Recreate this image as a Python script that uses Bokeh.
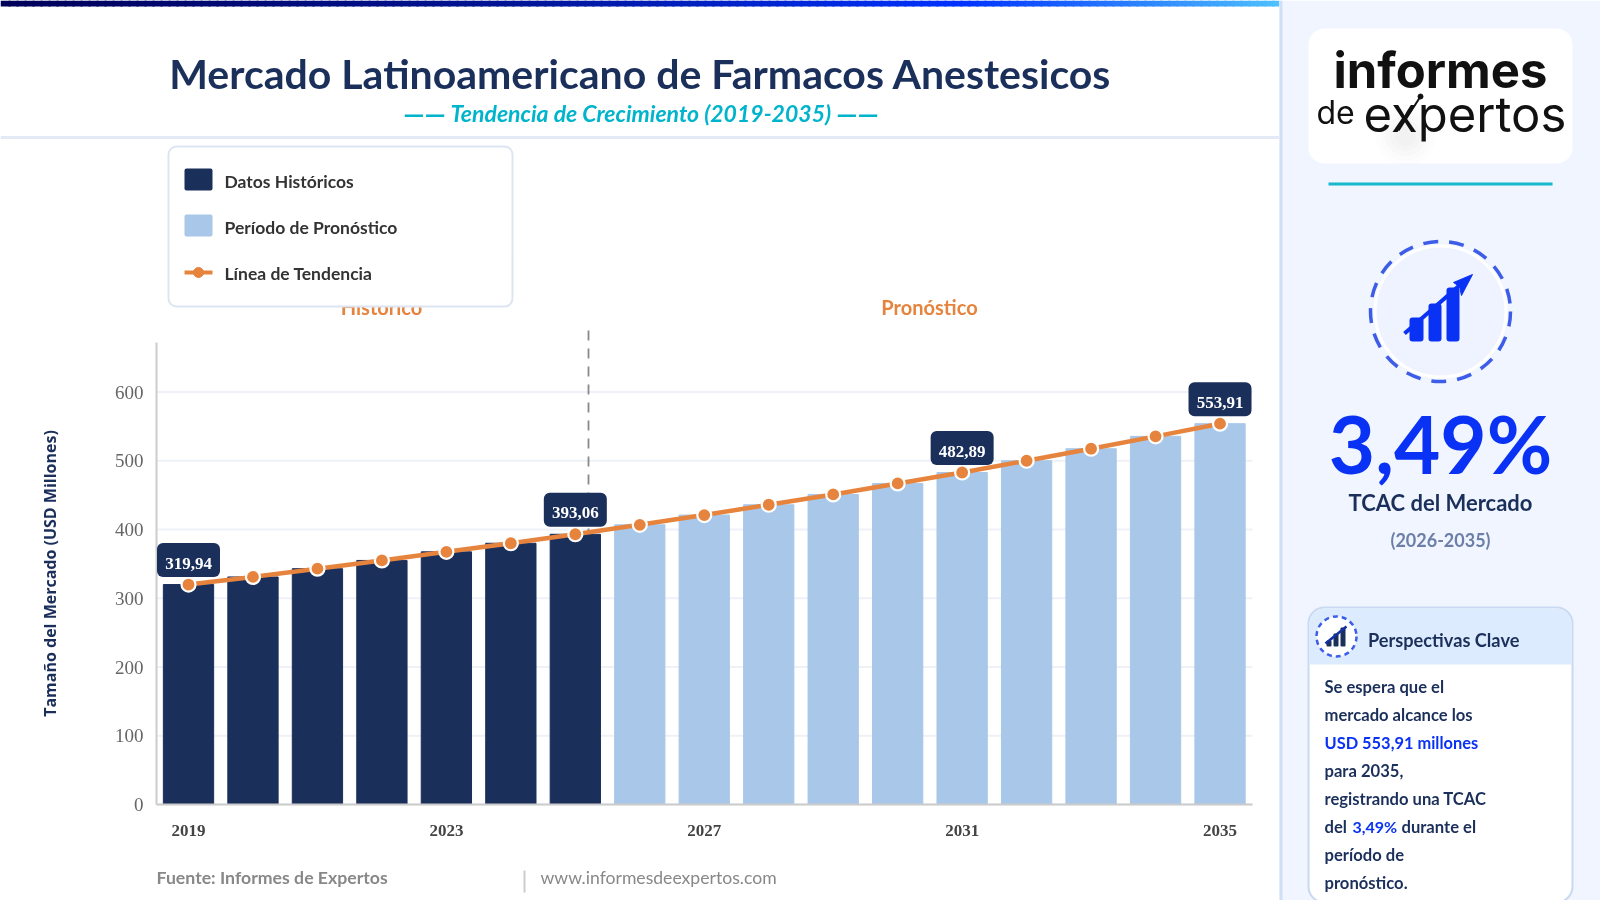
from bokeh.plotting import figure
from bokeh.models import (Range1d, LinearAxis, FixedTicker, Label, BoxAnnotation,
                          PrintfTickFormatter)
from bokeh.embed import file_html
from bokeh.resources import INLINE

# ---- data ----
years = list(range(2019, 2036))
hist_years = years[:7]
hist_values = [319.94, 331.0, 343.0, 355.0, 367.5, 380.0, 393.06]
fore_years = years[7:]
fore_values = [406.8, 421.0, 436.0, 451.0, 467.0, 482.89, 500.0, 517.5, 535.5, 553.91]
all_values = hist_values + fore_values
y_ticks = [0, 100, 200, 300, 400, 500, 600]
x_ticks = [2019, 2023, 2027, 2031, 2035]
callouts = [(2019, 319.94, "319,94"), (2025, 393.06, "393,06"),
            (2031, 482.89, "482,89"), (2035, 553.91, "553,91")]

# ---- palette / fonts ----
NAVY = "#1b2f5b"; LIGHT = "#a9c7e8"; ORANGE = "#e6843e"; TEAL = "#00b4cc"; BLUE = "#0a32f5"
F = "Lato"; SERIF = "Liberation Serif"

# ---- canvas in pixels, chart scales mapped on it ----
W, H = 1600, 900
p = figure(width=W, height=H, output_backend="svg", toolbar_location=None,
           x_range=Range1d(0, W), y_range=Range1d(H, 0), min_border=0,
           x_axis_type=None, y_axis_type=None, outline_line_color=None,
           background_fill_color="white", border_fill_color="white")
p.grid.visible = False
p.styles = {"position": "fixed", "left": "0px", "top": "0px"}

PX_YEAR = 64.47; X0 = 188.0      # px per year, px of 2019
PX_VAL = 0.6875; Y0 = 804.0      # px per unit, px of 0
p.extra_x_ranges["yr"] = Range1d(2019 - X0 / PX_YEAR, 2019 + (W - X0) / PX_YEAR)
p.extra_y_ranges["val"] = Range1d(-(H - Y0) / PX_VAL, Y0 / PX_VAL)
AX_L, AX_R, AX_T = 156, 1252, 342
yr = lambda px: 2019 + (px - X0) / PX_YEAR
val = lambda py: (Y0 - py) / PX_VAL

def box(l, r, t, b, fill, line=None, lw=0, radius=0, level="underlay"):
    bx = BoxAnnotation(left=l, right=r, top=t, bottom=b, fill_color=fill, fill_alpha=1,
                       line_color=line, line_width=lw, line_alpha=1 if line else 0,
                       border_radius=radius, level=level, editable=False)
    p.add_layout(bx)
    return bx

def text(x, y, s, size, color, style="bold", font=F, align="left", angle=0, level="annotation"):
    p.add_layout(Label(x=x, y=y, text=s, text_font=font, text_font_size=f"{size}px",
                       text_color=color, text_font_style=style, text_align=align,
                       text_baseline="middle", angle=angle, angle_units="deg", level=level))

# ---- page panels ----
box(1279, 1600, 0, 900, "#f0f5ff")
box(1279, 1282, 0, 900, "#cfdff5")
box(0, 1279, 135.5, 138.5, "#e3eaf5")
stops = [(0, (0, 0, 90)), (0.4, (0, 20, 150)), (0.75, (0, 51, 255)), (1, (79, 195, 255))]
def grad(t):
    for (a, ca), (b, cb) in zip(stops, stops[1:]):
        if t <= b:
            k = (t - a) / (b - a)
            return "#%02x%02x%02x" % tuple(round(u + (v - u) * k) for u, v in zip(ca, cb))
edges = list(range(0, 1279, 8))
p.quad(left=edges, right=[min(e + 10, 1279) for e in edges], top=[0] * len(edges), bottom=[6] * len(edges),
       color=[grad(e / 1279) for e in edges], line_alpha=0, level="underlay")

# ---- chart ----
for t in y_ticks:
    p.segment(x0=[AX_L], x1=[AX_R], y0=[t], y1=[t], y_range_name="val",
              line_color="#eef1f8", line_width=2)
div = p.segment(x0=[yr(588)], x1=[yr(588)], y0=[val(330)], y1=[0], x_range_name="yr", y_range_name="val",
                line_color="#8a8a8a", line_width=1.8)
div.glyph.line_dash = [10, 8]
p.vbar(x=hist_years, top=hist_values, width=0.78, color=NAVY, x_range_name="yr", y_range_name="val")
p.vbar(x=fore_years, top=fore_values, width=0.78, color=LIGHT, x_range_name="yr", y_range_name="val")
p.line(x=years, y=all_values, line_color=ORANGE, line_width=4.5, x_range_name="yr", y_range_name="val")
p.scatter(x=years, y=all_values, size=14, fill_color=ORANGE, line_color="white", line_width=2.2,
          x_range_name="yr", y_range_name="val")

yax = LinearAxis(y_range_name="val", fixed_location=AX_L, bounds=(0, val(AX_T)),
                 ticker=FixedTicker(ticks=y_ticks), axis_line_color="#cccccc", axis_line_width=2,
                 major_tick_line_color=None, minor_tick_line_color=None, major_label_standoff=7,
                 major_label_text_font=SERIF, major_label_text_font_size="19px",
                 major_label_text_color="#666666")
p.add_layout(yax, "left")
xax = LinearAxis(x_range_name="yr", fixed_location=Y0, bounds=(yr(AX_L), yr(AX_R)),
                 ticker=FixedTicker(ticks=x_ticks), axis_line_color="#cccccc", axis_line_width=2,
                 major_tick_line_color=None, minor_tick_line_color=None, major_label_standoff=14,
                 major_label_text_font=SERIF, major_label_text_font_size="17px",
                 major_label_text_font_style="bold", major_label_text_color="#444444",
                 formatter=PrintfTickFormatter(format="%d"))
p.add_layout(xax, "below")

for cy, cv, cs in callouts:
    p.add_layout(BoxAnnotation(left=cy - 31.5 / PX_YEAR, right=cy + 31.5 / PX_YEAR,
                               bottom=cv + 7.5 / PX_VAL, top=cv + 41.5 / PX_VAL,
                               x_range_name="yr", y_range_name="val", fill_color=NAVY, fill_alpha=1,
                               line_alpha=0, border_radius=6, level="annotation"))
    p.add_layout(Label(x=cy, y=cv, text=cs, x_range_name="yr", y_range_name="val", y_offset=21.5,
                       text_font=SERIF, text_font_size="17px", text_font_style="bold",
                       text_color="white", text_align="center", text_baseline="middle"))

# ---- headings ----
text(640, 73, "Mercado Latinoamericano de Farmacos Anestesicos", 41, NAVY, align="center")
text(640.3, 112, "Tendencia de Crecimiento (2019-2035)", 23, TEAL, style="bold italic", align="center")
text(424, 112, "——", 29, TEAL, style="bold italic", align="center")
text(857, 112, "——", 29, TEAL, style="bold italic", align="center")
text(381, 306, "Histórico", 20, ORANGE, align="center")
text(929, 306, "Pronóstico", 20, ORANGE, align="center")
text(49.5, 573, "Tamaño del Mercado (USD Millones)", 16, NAVY, font="Open Sans", align="center", angle=90)

# ---- legend ----
box(168, 512, 146, 306, "white", "#dde5f2", 2, 8, level="annotation")
box(184, 212, 168, 190, NAVY, radius=2, level="annotation")
box(184, 212, 214, 236, LIGHT, radius=2, level="annotation")
p.segment(x0=[184], x1=[212], y0=[272], y1=[272], line_color=ORANGE, line_width=4, level="overlay")
p.scatter(x=[198], y=[272], size=10, color=ORANGE, level="overlay")
for ly, ls in zip((181, 227, 273), ("Datos Históricos", "Período de Pronóstico", "Línea de Tendencia")):
    p.add_layout(Label(x=224, y=ly, text=ls, text_font=F, text_font_size="17.5px", text_color="#333333",
                       text_font_style="bold", text_baseline="middle", level="overlay"))

# ---- footer ----
text(156, 877, "Fuente: Informes de Expertos", 17.7, "#888888")
p.segment(x0=[524], x1=[524], y0=[870], y1=[892], line_color="#cccccc", line_width=2)
text(540, 877, "www.informesdeexpertos.com", 17.6, "#888888", style="normal")

# ---- logo ----
box(1308, 1572, 28, 163, "white", radius=16)
for r, a in ((30, 0.006), (25, 0.008), (20, 0.01), (15, 0.012), (10, 0.012)):
    p.circle(x=[1405], y=[135], radius=r, color="#000000", alpha=a)
text(1440, 69.5, "informes", 49, "#111111", font="Inter", align="center")
text(1316, 112, "de", 32, "#111111", style="normal", font="Inter")
text(1363, 113.8, "expertos", 49, "#111111", style="normal", font="Inter")
p.segment(x0=[1398], x1=[1420], y0=[130], y1=[96], line_color="#111111", line_width=2)
p.circle(x=[1420], y=[96], radius=2.5, color="#111111")
box(1328, 1552, 182, 185, "#14b8cc")

# ---- CAGR badge ----
p.circle(x=[1440], y=[311], radius=65.5, fill_color="#eef3ff", line_color="white", line_width=3)
ring = p.circle(x=[1440], y=[311], radius=70, fill_alpha=0, line_color="#3d5ce8", line_width=3.5)
ring.glyph.line_dash = [15, 11]
for l, r, t in ((1409, 1423, 317), (1428, 1441, 303), (1446, 1459, 287)):
    box(l, r, t, 341, BLUE, radius=3, level="annotation")
p.segment(x0=[1404], x1=[1460], y0=[333], y1=[284], line_color=BLUE, line_width=4, level="overlay")
p.patch(x=[1472, 1453, 1459, 1461], y=[274, 282, 286, 295], color=BLUE, level="overlay")

text(1440, 442, "3,49%", 80, BLUE, align="center")
text(1440, 502, "TCAC del Mercado", 22, NAVY, align="center")
text(1440, 539, "(2026-2035)", 18, "#6b7fa8", align="center")

# ---- insights card ----
box(1308, 1572, 607, 902, "white", "#c9d9f0", 2, 16)
box(1309, 1571, 608, 664, "#dcebfd", radius=(15, 15, 0, 0))
ring2 = p.circle(x=[1336], y=[636], radius=20, fill_color="white", line_color="#3d5ce8", line_width=2.5)
ring2.glyph.line_dash = [5, 4]
for l, r, t in ((1326, 1331, 640), (1333, 1338, 633), (1340, 1345, 627)):
    box(l, r, t, 646, NAVY, radius=1, level="annotation")
p.segment(x0=[1325], x1=[1346], y0=[643], y1=[626], line_color="#12309f", line_width=2.5, level="overlay")
text(1367.5, 639.5, "Perspectivas Clave", 18.2, NAVY)
lines = [(686, "Se espera que el"), (714, "mercado alcance los"), (770, "para 2035,"),
         (798, "registrando una TCAC"), (854, "período de"), (882, "pronóstico.")]
for ly, ls in lines:
    text(1324, ly, ls, 16.6, NAVY)
text(1324, 742, "USD 553,91 millones", 16.4, BLUE)
text(1324, 826, "del", 16.6, NAVY)
text(1352, 826, "3,49%", 16, BLUE)
text(1401, 826, "durante el", 16.6, NAVY)

open("out.html", "w").write(file_html(p, INLINE))
